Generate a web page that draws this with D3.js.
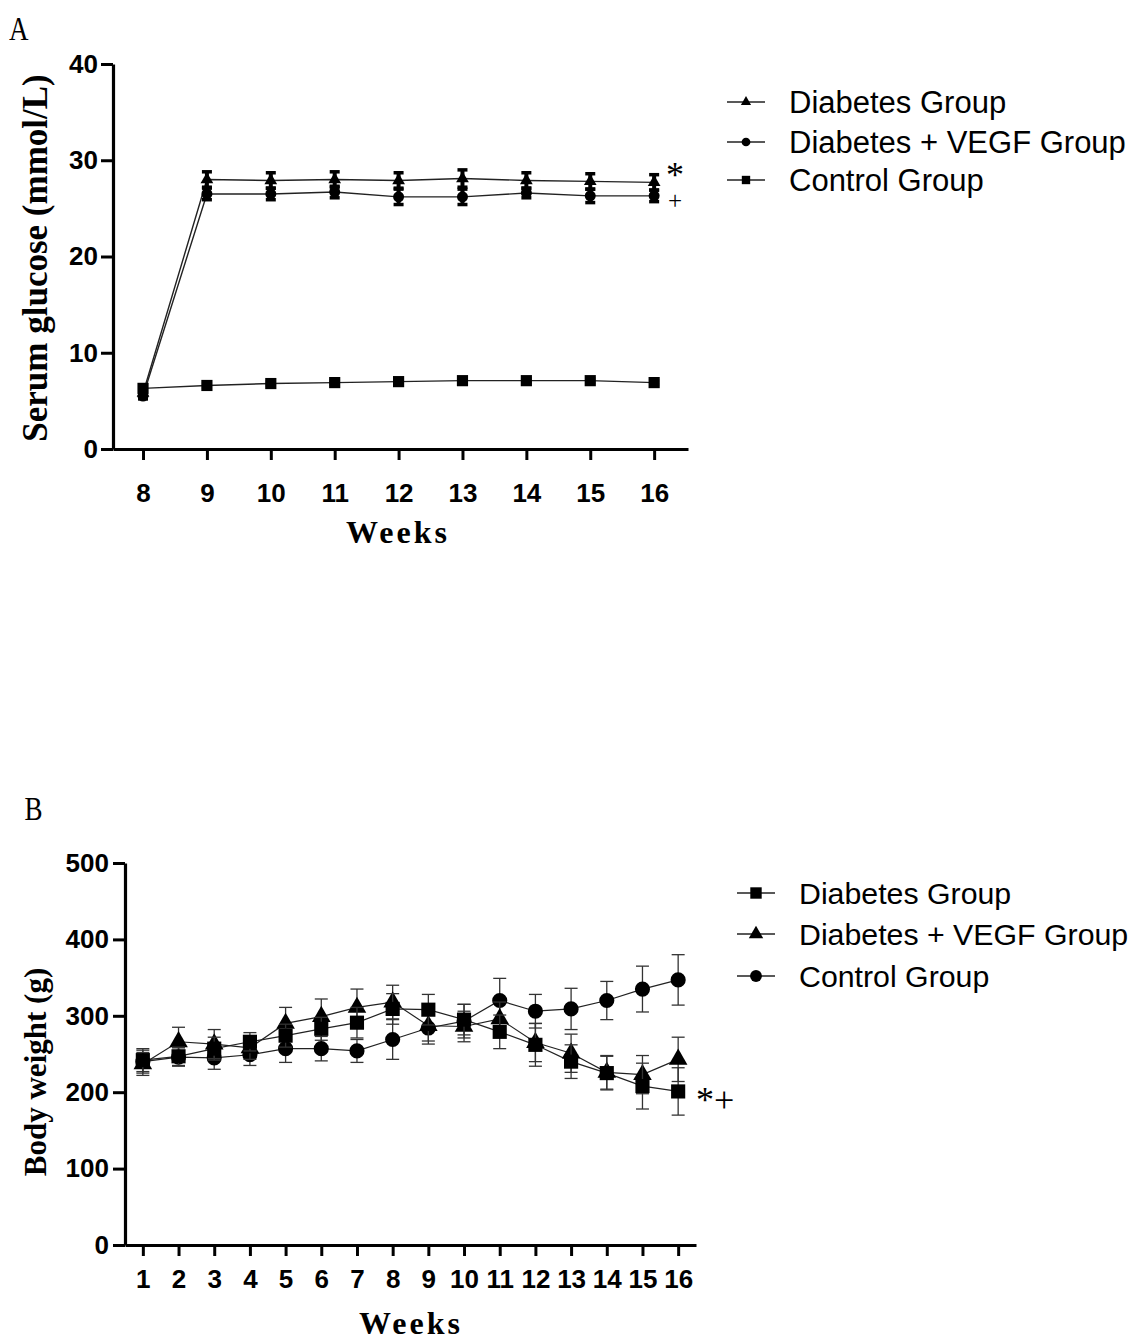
<!DOCTYPE html>
<html>
<head>
<meta charset="utf-8">
<script src="https://cdn.jsdelivr.net/npm/d3@7"></script>
<style>
  body { margin: 0; background: #fff; }
  .tick text { font-family: "Liberation Sans", Arial, sans-serif; font-weight: bold; font-size: 26px; fill: #000; }
  .legend text { font-family: "Liberation Sans", Arial, sans-serif; fill: #000; }
  .title { font-family: "Liberation Serif", "Times New Roman", serif; font-weight: bold; fill: #000; }
  .mark { font-family: "Liberation Serif", "Times New Roman", serif; font-weight: normal; fill: #000; }
</style>
</head>
<body>
<script>
// panel A: serum glucose, weeks 8-16
var weeksA = [8, 9, 10, 11, 12, 13, 14, 15, 16];
var glucoseDiabetes   = [5.8, 28.0, 27.9, 28.0, 27.9, 28.1, 27.9, 27.8, 27.7];
var glucoseDiabetesSD = [0.3, 0.8, 0.8, 0.8, 0.8, 0.9, 0.8, 0.8, 0.8];
var glucoseVegf       = [5.5, 26.5, 26.5, 26.7, 26.2, 26.2, 26.6, 26.3, 26.3];
var glucoseVegfSD     = [0.3, 0.6, 0.6, 0.6, 0.8, 0.8, 0.5, 0.7, 0.6];
var glucoseControl    = [6.3, 6.6, 6.8, 6.9, 7.0, 7.1, 7.1, 7.1, 6.9];
var glucoseControlSD  = [0.2, 0.2, 0.2, 0.2, 0.2, 0.2, 0.2, 0.2, 0.2];
var ticksA = [0, 10, 20, 30, 40];

// panel B: body weight, weeks 1-16
var weeksB = [1, 2, 3, 4, 5, 6, 7, 8, 9, 10, 11, 12, 13, 14, 15, 16];
var weightDiabetes   = [242, 247, 257, 266, 274, 283, 291, 309, 308, 295, 279, 262, 240, 225, 208, 201];
var weightDiabetesSD = [15, 12, 15, 12, 15, 15, 20, 20, 20, 20, 22, 28, 22, 22, 30, 31];
var weightVegf       = [237, 266, 263, 258, 290, 299, 311, 318, 287, 286, 296, 265, 251, 226, 223, 243];
var weightVegfSD     = [15, 19, 19, 15, 21, 23, 24, 22, 20, 20, 22, 25, 25, 22, 25, 29];
var weightControl    = [240, 246, 245, 249, 257, 257, 254, 269, 284, 293, 320, 306, 309, 320, 335, 347];
var weightControlSD  = [15, 12, 15, 14, 18, 16, 15, 26, 21, 22, 29, 22, 27, 25, 30, 33];
var ticksB = [0, 100, 200, 300, 400, 500];

var svg = d3.select("body").append("svg").attr("width", 1138).attr("height", 1340);

function drawPanel(p) {
  var g = svg.append("g");
  var x = p.x, y = p.y;
  var ordered = p.drawOrder.map(function (k) { return p.series[k]; });

  // series lines
  var line = d3.line().x(function (d) { return x(d[0]); }).y(function (d) { return y(d[1]); });
  ordered.forEach(function (s) {
    g.append("path")
      .datum(p.weeks.map(function (w, i) { return [w, s.values[i]]; }))
      .attr("fill", "none").attr("stroke", "#222").attr("stroke-width", p.lineWidth)
      .attr("d", line);
  });

  // error bars + markers
  ordered.forEach(function (s) {
    var eb = g.append("g");
    p.weeks.forEach(function (w, i) {
      var cx = x(w), hi = y(s.values[i] + s.sd[i]), lo = y(s.values[i] - s.sd[i]);
      eb.append("line").attr("x1", cx).attr("x2", cx).attr("y1", hi).attr("y2", lo)
        .attr("stroke", p.barColor).attr("stroke-width", p.barWidth);
      [hi, lo].forEach(function (yy) {
        eb.append("line").attr("x1", cx - p.capW / 2).attr("x2", cx + p.capW / 2).attr("y1", yy).attr("y2", yy)
          .attr("stroke", p.barColor).attr("stroke-width", p.capWidth);
      });
    });
    g.append("g").selectAll("path").data(p.weeks).enter().append("path")
      .attr("transform", function (w, i) { return "translate(" + x(w) + "," + y(s.values[i]) + ")"; })
      .attr("d", d3.symbol().type(s.symbol).size(s.size))
      .attr("fill", "#000");
  });

  // axes
  var ax = g.append("g").attr("transform", "translate(0," + y(0) + ")")
    .call(d3.axisBottom(x).tickValues(p.weeks).tickSize(11).tickPadding(p.xPad).tickSizeOuter(0));
  var ay = g.append("g").attr("transform", "translate(" + x.range()[0] + ",0)")
    .call(d3.axisLeft(y).tickValues(p.yTicks).tickSize(12).tickPadding(p.yPad).tickSizeOuter(0));
  [ax, ay].forEach(function (a) {
    a.select(".domain").attr("stroke", "#000").attr("stroke-width", 3.2);
    a.selectAll(".tick line").attr("stroke", "#000").attr("stroke-width", 3);
  });

  // titles
  g.append("text").attr("class", "title").attr("x", p.xTitleX).attr("y", p.xTitleY)
    .attr("text-anchor", "middle").style("font-size", "32px").attr("letter-spacing", 3).text("Weeks");
  g.append("text").attr("class", "title")
    .attr("transform", "translate(" + p.yTitleX + "," + p.yTitleY + ") rotate(-90)")
    .attr("text-anchor", "middle").style("font-size", p.yTitleSize + "px").text(p.yTitle);

  // legend
  var lg = g.append("g").attr("class", "legend");
  p.series.forEach(function (s, i) {
    var ly = p.legendY[i];
    lg.append("line").attr("x1", p.legendX).attr("x2", p.legendX + 38).attr("y1", ly).attr("y2", ly)
      .attr("stroke", "#222").attr("stroke-width", 1.3);
    lg.append("path").attr("transform", "translate(" + (p.legendX + 19) + "," + ly + ")")
      .attr("d", d3.symbol().type(s.symbol).size(s.legendSize)).attr("fill", "#000");
    lg.append("text").attr("x", p.legendX + 62).attr("y", ly).attr("dy", "0.36em")
      .style("font-size", p.legendFont + "px").text(s.name);
  });
  return g;
}

// ---- panel A ----
var xA = d3.scaleLinear().domain([7.53, 16.53]).range([113, 688]);
var yA = d3.scaleLinear().domain([0, 40]).range([449, 64]);
var gA = drawPanel({
  x: xA, y: yA, weeks: weeksA, yTicks: ticksA,
  lineWidth: 1.4, barColor: "#000", barWidth: 4, capW: 10, capWidth: 3.5,
  xPad: 24, yPad: 3, xTitleX: 398, xTitleY: 543, yTitleX: 47, yTitleY: 258, yTitleSize: 35,
  yTitle: "Serum glucose (mmol/L)",
  legendX: 727, legendY: [102, 142, 180], legendFont: 31,
  drawOrder: [2, 1, 0],
  series: [
    { name: "Diabetes Group", values: glucoseDiabetes, sd: glucoseDiabetesSD, symbol: d3.symbolTriangle, size: 70, legendSize: 45 },
    { name: "Diabetes + VEGF Group", values: glucoseVegf, sd: glucoseVegfSD, symbol: d3.symbolCircle, size: 95, legendSize: 60 },
    { name: "Control Group", values: glucoseControl, sd: glucoseControlSD, symbol: d3.symbolSquare, size: 125, legendSize: 70 }
  ]
});
// significance marks, stacked in one text element
var sig = gA.append("text").attr("class", "mark").attr("text-anchor", "middle");
sig.append("tspan").attr("x", 675).attr("y", 187).style("font-size", "36px").text("*");
sig.append("tspan").attr("x", 675).attr("y", 209).style("font-size", "25px").text("+");

// ---- panel B ----
var xB = d3.scaleLinear().domain([0.5, 16.5]).range([125, 696]);
var yB = d3.scaleLinear().domain([0, 500]).range([1245, 863]);
var gB = drawPanel({
  x: xB, y: yB, weeks: weeksB, yTicks: ticksB,
  lineWidth: 1.2, barColor: "#333", barWidth: 1.3, capW: 13, capWidth: 1.3,
  xPad: 14, yPad: 4, xTitleX: 411, xTitleY: 1334, yTitleX: 46, yTitleY: 1072, yTitleSize: 31,
  yTitle: "Body weight (g)",
  legendX: 737, legendY: [893, 934, 976], legendFont: 30.3,
  drawOrder: [2, 1, 0],
  series: [
    { name: "Diabetes Group", values: weightDiabetes, sd: weightDiabetesSD, symbol: d3.symbolSquare, size: 200, legendSize: 130 },
    { name: "Diabetes + VEGF Group", values: weightVegf, sd: weightVegfSD, symbol: d3.symbolTriangle, size: 150, legendSize: 90 },
    { name: "Control Group", values: weightControl, sd: weightControlSD, symbol: d3.symbolCircle, size: 180, legendSize: 110 }
  ]
});
gB.append("text").attr("class", "mark").attr("x", 696).attr("y", 1112)
  .style("font-size", "36px").text("*+");

// panel letters
svg.append("text").attr("class", "mark").attr("x", 11).attr("y", 40)
  .style("font-size", "33px").attr("transform", "scale(0.82,1)").text("A");
svg.append("text").attr("class", "mark").attr("x", 30).attr("y", 820)
  .style("font-size", "33px").attr("transform", "scale(0.82,1)").text("B");
</script>
</body>
</html>
